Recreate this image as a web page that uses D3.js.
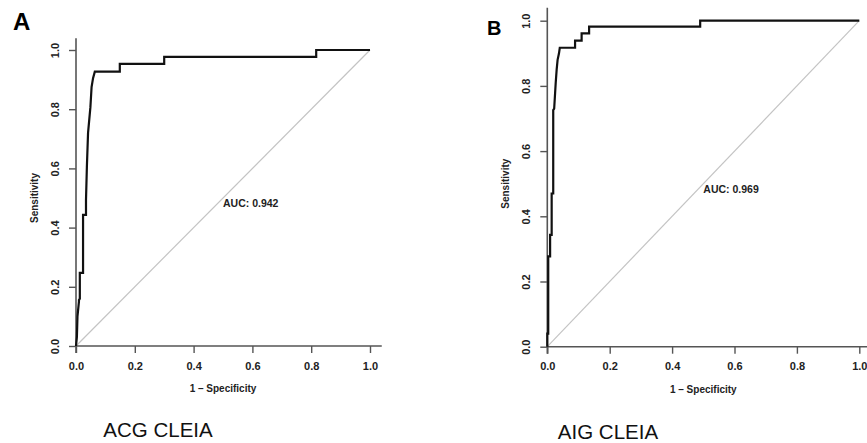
<!DOCTYPE html>
<html>
<head>
<meta charset="utf-8">
<script src="https://cdn.jsdelivr.net/npm/d3@7"></script>
<style>
  body { margin: 0; background: #fff; }
  text { font-family: "Liberation Sans", Arial, Helvetica, sans-serif; fill: #222; }
</style>
</head>
<body>
<div id="chart"></div>
<script>
// ROC curve points (1 - specificity, sensitivity)
var fprA = [0, 0.003, 0.005, 0.010, 0.010, 0.013, 0.013, 0.024, 0.024, 0.034, 0.034, 0.037, 0.041, 0.049, 0.053, 0.058, 0.064, 0.149, 0.149, 0.300, 0.300, 0.817, 0.817, 1];
var tprA = [0, 0.030, 0.100, 0.150, 0.155, 0.160, 0.247, 0.247, 0.443, 0.443, 0.493, 0.605, 0.720, 0.807, 0.875, 0.905, 0.927, 0.927, 0.953, 0.953, 0.977, 0.977, 1.000, 1];

var fprB = [0, 0, 0.003, 0.003, 0.009, 0.009, 0.014, 0.014, 0.019, 0.019, 0.022, 0.027, 0.030, 0.033, 0.0375, 0.040, 0.089, 0.089, 0.110, 0.110, 0.134, 0.134, 0.490, 0.490, 1];
var tprB = [0, 0.040, 0.040, 0.277, 0.277, 0.343, 0.343, 0.470, 0.470, 0.726, 0.730, 0.810, 0.850, 0.880, 0.900, 0.917, 0.917, 0.939, 0.939, 0.961, 0.961, 0.982, 0.982, 1.000, 1];

var ticks = [0, 0.2, 0.4, 0.6, 0.8, 1.0];
var panelLetters = ["A", "B"];
var panelTitles = ["ACG CLEIA", "AIG CLEIA"];
var aucLabels = ["AUC: 0.942", "AUC: 0.969"];

var svg = d3.select('#chart').append('svg')
  .attr('width', 867)
  .attr('height', 443);

svg.append('rect').attr('width', 867).attr('height', 443).attr('fill', '#fff');

var drawPanel = function(p) {
  var x = d3.scaleLinear().domain([0, 1]).range([p.x0, p.x1]);
  var y = d3.scaleLinear().domain([0, 1]).range([p.y0, p.y1]);
  var g = svg.append('g');

  // diagonal reference line
  g.append('line')
    .attr('x1', x(0)).attr('y1', y(0))
    .attr('x2', x(1)).attr('y2', y(1))
    .attr('stroke', '#c4c4c4')
    .attr('stroke-width', 1.2);

  // axes
  var xAxis = d3.axisBottom(x).tickValues(ticks).tickSizeOuter(0).tickSize(7)
    .tickFormat(d3.format('.1f'));
  var yAxis = d3.axisLeft(y).tickValues(ticks).tickSizeOuter(0).tickSize(7)
    .tickFormat(d3.format('.1f'));

  var gx = g.append('g').attr('transform', 'translate(0,' + y(0) + ')').call(xAxis);
  var gy = g.append('g').attr('transform', 'translate(' + x(0) + ',0)').call(yAxis);

  [gx, gy].forEach(function(a) {
    a.select('.domain').remove();
    a.selectAll('.tick line').attr('stroke', '#555').attr('stroke-width', 1.4);
    a.selectAll('.tick text')
      .attr('font-size', '11px')
      .attr('font-weight', 'bold')
      .attr('font-family', '"Liberation Sans", Arial, sans-serif')
      .attr('fill', '#222');
  });
  gx.selectAll('.tick text').attr('y', 16);
  gy.selectAll('.tick text')
    .attr('x', 0).attr('y', 0).attr('dy', '0.35em')
    .attr('text-anchor', 'middle')
    .attr('transform', 'translate(-21,0) rotate(-90)');

  // axis lines, running a little past 1.0
  g.append('line')
    .attr('x1', x(0)).attr('y1', y(0)).attr('x2', x(1.04)).attr('y2', y(0))
    .attr('stroke', '#555').attr('stroke-width', 1.6);
  g.append('line')
    .attr('x1', x(0)).attr('y1', y(0) + 7).attr('x2', x(0)).attr('y2', y(1.04))
    .attr('stroke', '#555').attr('stroke-width', 1.6);

  // ROC curve
  var line = d3.line()
    .x(function(d) { return x(d[0]); })
    .y(function(d) { return y(d[1]); });
  g.append('path')
    .datum(d3.zip(p.fpr, p.tpr))
    .attr('d', line)
    .attr('fill', 'none')
    .attr('stroke', '#111')
    .attr('stroke-width', 2.2)
    .attr('stroke-linejoin', 'miter');

  // labels
  g.append('text')
    .attr('x', x(0.5)).attr('y', y(0.5))
    .attr('dy', '0.85em')
    .attr('font-size', '10.5px').attr('font-weight', 'bold')
    .text(p.auc);

  g.append('text')
    .attr('x', (p.x0 + p.x1) / 2).attr('y', y(0) + 46)
    .attr('text-anchor', 'middle')
    .attr('font-size', '10px').attr('font-weight', 'bold')
    .text('1 \u2013 Specificity');

  g.append('text')
    .attr('transform', 'translate(' + (p.x0 - 38) + ',' + ((p.y0 + p.y1) / 2) + ') rotate(-90)')
    .attr('text-anchor', 'middle')
    .attr('font-size', '10px').attr('font-weight', 'bold')
    .text('Sensitivity');

  g.append('text')
    .attr('x', p.letterX).attr('y', p.letterY)
    .attr('font-size', p.letterSize).attr('font-weight', 'bold')
    .style('fill', '#000')
    .text(p.letter);

  g.append('text')
    .attr('x', p.titleX).attr('y', p.titleY)
    .attr('text-anchor', 'middle')
    .attr('font-size', '20.5px')
    .style('fill', '#111')
    .text(p.title);
};

drawPanel({ x0: 76, x1: 370, y0: 346, y1: 50, fpr: fprA, tpr: tprA,
  auc: aucLabels[0], letter: panelLetters[0], letterX: 13, letterY: 30, letterSize: '24px',
  title: panelTitles[0], titleX: 158, titleY: 437 });

drawPanel({ x0: 547.3, x1: 859.3, y0: 346.7, y1: 20.7, fpr: fprB, tpr: tprB,
  auc: aucLabels[1], letter: panelLetters[1], letterX: 487, letterY: 35, letterSize: '20px',
  title: panelTitles[1], titleX: 608, titleY: 439 });
</script>
</body>
</html>
